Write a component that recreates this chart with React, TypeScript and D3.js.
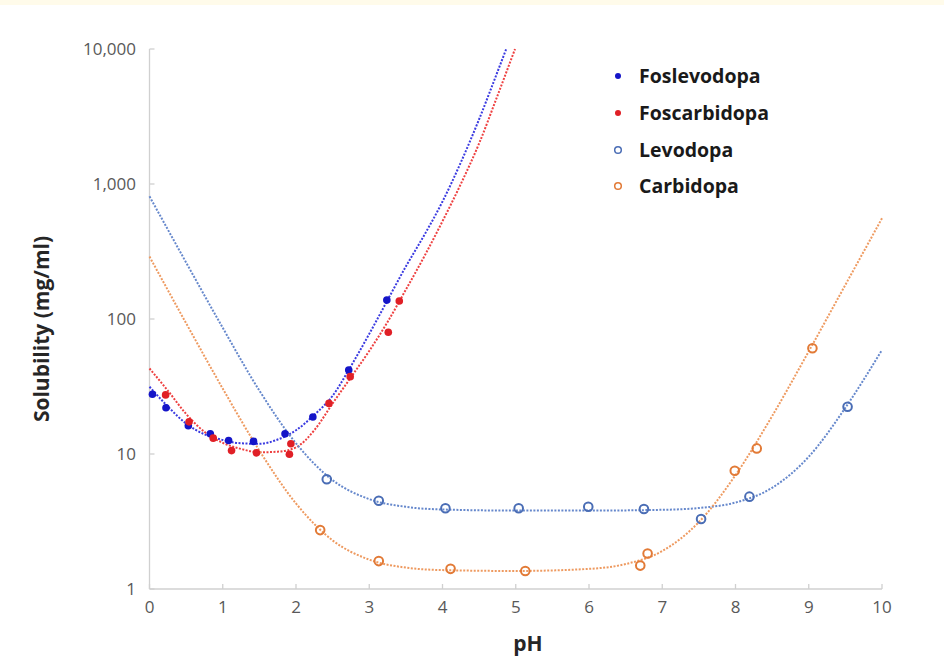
import React from "react";
import * as d3 from "d3";

// ---- data ----
const phTicks = [0, 1, 2, 3, 4, 5, 6, 7, 8, 9, 10];
const solTicks = [1, 10, 100, 1000, 10000];
const solTickLabels = ["1", "10", "100", "1,000", "10,000"];

const foslevodopaPH = [0.04, 0.225, 0.53, 0.83, 1.08, 1.42, 1.85, 2.23, 2.72, 3.24];
const foslevodopaS = [27.7, 22, 16.2, 14.1, 12.6, 12.4, 14.1, 18.8, 41.9, 138];

const foscarbidopaPH = [0.22, 0.54, 0.87, 1.12, 1.46, 1.91, 1.93, 2.45, 2.74, 3.26, 3.41];
const foscarbidopaS = [27.4, 17.3, 13.1, 10.6, 10.2, 9.95, 11.9, 23.7, 37.4, 79.7, 136];

const levodopaPH = [2.42, 3.13, 4.04, 5.04, 5.99, 6.75, 7.53, 8.19, 9.53];
const levodopaS = [6.5, 4.51, 3.96, 3.96, 4.07, 3.91, 3.3, 4.83, 22.4];

const carbidopaPH = [2.33, 3.13, 4.11, 5.13, 6.7, 6.8, 7.99, 8.29, 9.05];
const carbidopaS = [2.73, 1.61, 1.41, 1.36, 1.49, 1.83, 7.52, 11.0, 60.7];

// fitted trend curves
const foslevodopaFitPH = [0, 0.25, 0.5, 0.75, 1, 1.25, 1.5, 1.75, 2, 2.25, 2.5, 2.75, 3, 3.25, 3.5, 3.75, 4, 4.25, 4.5, 4.75, 4.87];
const foslevodopaFitS = [31.5, 22.5, 16.8, 14.0, 12.7, 12.0, 11.9, 12.8, 15.0, 19.5, 27, 44.7, 77.6, 138, 245, 417, 741, 1445, 3020, 6760, 10000];

const foscarbidopaFitPH = [0, 0.25, 0.5, 0.75, 1, 1.25, 1.5, 1.75, 2, 2.25, 2.5, 2.75, 3, 3.25, 3.5, 3.75, 4, 4.25, 4.5, 4.75, 4.99];
const foscarbidopaFitS = [43, 29.5, 19.8, 14.6, 12.1, 10.9, 10.3, 10.4, 11.2, 15, 23.7, 37, 58, 95, 165, 290, 530, 1000, 2000, 4500, 10000];

const levodopaFitPH = [0, 0.5, 1, 1.5, 2, 2.5, 3, 3.5, 4, 5, 6, 7, 7.5, 8, 8.5, 9, 9.5, 10];
const levodopaFitS = [810, 262, 86, 29.5, 12.0, 6.4, 4.63, 4.06, 3.88, 3.81, 3.81, 3.86, 3.98, 4.37, 5.62, 9.55, 22, 59];

const carbidopaFitPH = [0, 0.5, 1, 1.5, 2, 2.5, 3, 3.5, 4, 5, 6, 6.5, 7, 7.5, 8, 8.5, 9, 9.5, 10];
const carbidopaFitS = [290, 93, 30.5, 10.6, 4.3, 2.29, 1.65, 1.44, 1.38, 1.36, 1.41, 1.53, 1.91, 3.13, 6.98, 19.1, 57.6, 179, 557];

const seriesNames = ["Foslevodopa", "Foscarbidopa", "Levodopa", "Carbidopa"];

export default function App() {
  const W = 944;
  const H = 660;
  const x = d3.scaleLinear().domain([0, 10]).range([149.5, 882]);
  const y = d3.scaleLog().domain([1, 10000]).range([589, 49]);
  const font = "'Open Sans', 'Liberation Sans', sans-serif";

  const line = d3
    .line<[number, number]>()
    .x((d) => x(d[0]))
    .y((d) => y(d[1]))
    .curve(d3.curveMonotoneX);

  const zip = (a: number[], b: number[]) => a.map((v, i) => [v, b[i]] as [number, number]);

  const series = [
    { name: seriesNames[0], px: foslevodopaPH, s: foslevodopaS, fx: foslevodopaFitPH, fs: foslevodopaFitS, color: "#1515c8", line: "#3a3ae0", filled: true },
    { name: seriesNames[1], px: foscarbidopaPH, s: foscarbidopaS, fx: foscarbidopaFitPH, fs: foscarbidopaFitS, color: "#e01f26", line: "#ee4040", filled: true },
    { name: seriesNames[2], px: levodopaPH, s: levodopaS, fx: levodopaFitPH, fs: levodopaFitS, color: "#4a6db5", line: "#6688cc", filled: false },
    { name: seriesNames[3], px: carbidopaPH, s: carbidopaS, fx: carbidopaFitPH, fs: carbidopaFitS, color: "#e27a36", line: "#ee9a60", filled: false },
  ];

  const legendY = [76, 113, 150, 186];

  return (
    <svg width={W} height={H} style={{ position: "absolute", left: 0, top: 0, background: "#fff" }}>
      <rect x={0} y={0} width={W} height={5} fill="#fffbea" />
      {/* axes */}
      <line x1={x(0)} x2={x(0)} y1={y(10000)} y2={y(1)} stroke="#d0d0d0" strokeWidth={1.3} />
      <line x1={x(0)} x2={x(10)} y1={y(1)} y2={y(1)} stroke="#d0d0d0" strokeWidth={1.3} />
      {solTicks.map((t, i) => (
        <g key={"yt" + t}>
          <line x1={x(0)} x2={x(0) + 5} y1={y(t)} y2={y(t)} stroke="#d0d0d0" strokeWidth={1.3} />
          <text x={136} y={y(t)} dy="0.35em" textAnchor="end" fontFamily={font} fontSize={17} fill="#595959">
            {solTickLabels[i]}
          </text>
        </g>
      ))}
      {phTicks.map((t) => (
        <g key={"xt" + t}>
          <line x1={x(t)} x2={x(t)} y1={y(1)} y2={y(1) - 5} stroke="#d0d0d0" strokeWidth={1.3} />
          <text x={x(t)} y={607} dy="0.35em" textAnchor="middle" fontFamily={font} fontSize={17} fill="#595959">
            {t}
          </text>
        </g>
      ))}
      <text x={528} y={644} dy="0.35em" textAnchor="middle" fontFamily={font} fontSize={21} fontWeight="bold" fill="#262626">
        pH
      </text>
      <text
        transform={`translate(42,${329}) rotate(-90)`}
        dy="0.35em"
        textAnchor="middle"
        fontFamily={font}
        fontSize={21}
        fontWeight="bold"
        fill="#262626"
      >
        Solubility (mg/ml)
      </text>

      {/* fit curves */}
      {series.map((s) => (
        <path
          key={"f" + s.name}
          d={line(zip(s.fx, s.fs)) || ""}
          fill="none"
          stroke={s.line}
          strokeWidth={2}
          strokeDasharray="2 1.5"
        />
      ))}

      {/* points */}
      {series.map((s) =>
        s.px.map((p, i) =>
          s.filled ? (
            <circle key={s.name + i} cx={x(p)} cy={y(s.s[i])} r={3.8} fill={s.color} />
          ) : (
            <circle key={s.name + i} cx={x(p)} cy={y(s.s[i])} r={4.3} fill="none" stroke={s.color} strokeWidth={2} />
          )
        )
      )}

      {/* legend */}
      {series.map((s, i) => (
        <g key={"lg" + s.name}>
          {s.filled ? (
            <circle cx={618} cy={legendY[i]} r={3} fill={s.color} />
          ) : (
            <circle cx={618} cy={legendY[i]} r={3.3} fill="none" stroke={s.color} strokeWidth={1.5} />
          )}
          <text x={639} y={legendY[i]} dy="0.35em" fontFamily={font} fontSize={19.5} fontWeight="bold" fill="#1a1a1a">
            {s.name}
          </text>
        </g>
      ))}
    </svg>
  );
}
